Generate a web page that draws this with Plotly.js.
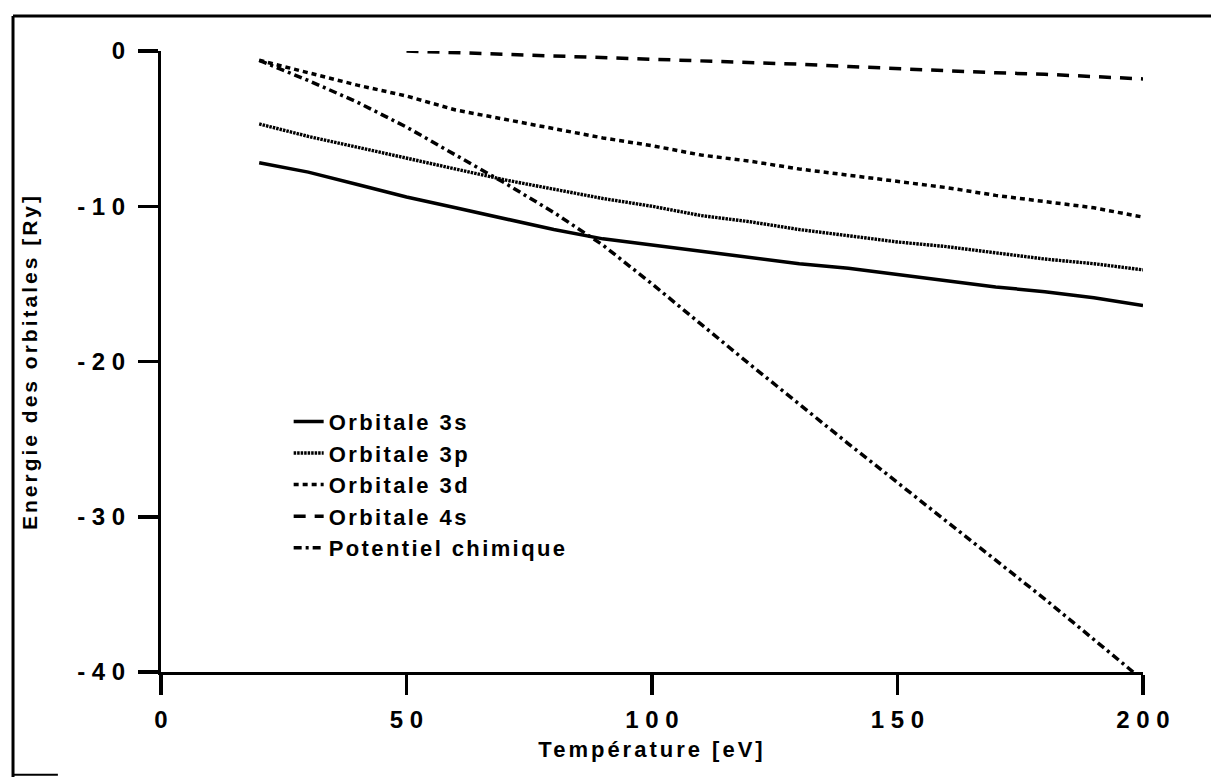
<!DOCTYPE html>
<html>
<head>
<meta charset="utf-8">
<script src="https://cdn.plot.ly/plotly-3.0.1.min.js"></script>
<style>
html,body{margin:0;padding:0;background:#fff;}
#chart{width:1211px;height:777px;}
text.xtitle, text.ytitle { letter-spacing: 3px; }
text.legendtext { letter-spacing: 2.4px; }
</style>
</head>
<body>
<div id="chart"></div>
<script>
const T = [20, 30, 40, 50, 60, 70, 80, 90, 100, 110, 120, 130, 140, 150, 160, 170, 180, 190, 200];
const orb3s = [-7.2, -7.8, -8.6, -9.4, -10.1, -10.8, -11.5, -12.1, -12.5, -12.9, -13.3, -13.7, -14.0, -14.4, -14.8, -15.2, -15.5, -15.9, -16.4];
const orb3p = [-4.7, -5.5, -6.2, -6.9, -7.6, -8.3, -8.9, -9.5, -10.0, -10.6, -11.0, -11.5, -11.9, -12.3, -12.6, -13.0, -13.4, -13.7, -14.1];
const orb3d = [-0.6, -1.4, -2.2, -2.9, -3.8, -4.4, -5.0, -5.6, -6.1, -6.7, -7.1, -7.6, -8.0, -8.4, -8.8, -9.3, -9.7, -10.1, -10.7];
const T4s = [50, 60, 70, 80, 90, 100, 110, 120, 130, 140, 150, 160, 170, 180, 190, 200];
const orb4s = [0.0, -0.1, -0.2, -0.3, -0.4, -0.5, -0.65, -0.75, -0.85, -1.0, -1.15, -1.25, -1.4, -1.5, -1.65, -1.8];
const Tmu = [20, 30, 40, 50, 60, 70, 80, 90, 100, 120, 140, 160, 180, 198];
const muChem = [-0.6, -1.9, -3.3, -4.9, -6.7, -8.5, -10.4, -12.5, -15.0, -20.2, -25.3, -30.3, -35.3, -40.0];
const names = ["Orbitale 3s", "Orbitale 3p", "Orbitale 3d", "Orbitale 4s", "Potentiel chimique"];
const xTickVals = [0, 50, 100, 150, 200];
const xTickText = ["0", "5 0", "1 0 0", "1 5 0", "2 0 0"];
const yTickVals = [0, -10, -20, -30, -40];
const yTickText = ["0", "- 1 0", "- 2 0", "- 3 0", "- 4 0"];

const F = "Liberation Sans, Arial, sans-serif";
const traces = [
  {x: T, y: orb3s, name: names[0], mode: "lines", line: {color: "#000", width: 3.5, dash: "solid"}},
  {x: T, y: orb3p, name: names[1], mode: "lines", line: {color: "#000", width: 3.4, dash: "2.5px,1px"}},
  {x: T, y: orb3d, name: names[2], mode: "lines", line: {color: "#000", width: 3.5, dash: "5px,4px"}},
  {x: T4s, y: orb4s, name: names[3], mode: "lines", line: {color: "#000", width: 3.5, dash: "12px,9px"}},
  {x: Tmu, y: muChem, name: names[4], mode: "lines", line: {color: "#000", width: 3.5, dash: "8px,4px,3px,4px"}}
];
const layout = {
  width: 1211, height: 777,
  margin: {l: 161, r: 68, t: 51, b: 105},
  paper_bgcolor: "#fff", plot_bgcolor: "#fff",
  showlegend: true,
  legend: {x: 0.13, y: 0.437, xanchor: "left", yanchor: "top", bgcolor: "rgba(0,0,0,0)",
           font: {family: F, size: 22, color: "#000", weight: "bold"}, tracegroupgap: 0},
  xaxis: {range: [0, 200], tickvals: xTickVals, ticktext: xTickText, showgrid: false, zeroline: false,
          showline: true, linecolor: "#000", linewidth: 3, ticks: "outside", ticklen: 20, tickwidth: 3.5, tickcolor: "#000",
          tickfont: {family: F, size: 24, color: "#000", weight: "bold"}, ticklabelstandoff: 4,
          title: {text: "Température [eV]", font: {family: F, size: 22, color: "#000", weight: "bold"}, standoff: 10}},
  yaxis: {range: [-40, 0], tickvals: yTickVals, ticktext: yTickText, showgrid: false, zeroline: false,
          showline: true, linecolor: "#000", linewidth: 3, ticks: "outside", ticklen: 20, tickwidth: 3.5, tickcolor: "#000",
          tickfont: {family: F, size: 24, color: "#000", weight: "bold"}, ticklabelstandoff: 8,
          title: {text: "Energie des orbitales [Ry]", font: {family: F, size: 21, color: "#000", weight: "bold"}, standoff: 34}},
  shapes: [
    {type: "line", xref: "paper", yref: "paper", x0: -0.1507, x1: -0.1507, y0: 1.0564, y1: -0.17, line: {color: "#000", width: 3}},
    {type: "line", xref: "paper", yref: "paper", x0: -0.1507, x1: 1.07, y0: 1.0564, y1: 1.0564, line: {color: "#000", width: 3}},
    {type: "line", xref: "paper", yref: "paper", x0: -0.1507, x1: -0.105, y0: -0.1655, y1: -0.1655, line: {color: "#000", width: 2}}
  ]
};
Plotly.newPlot("chart", traces, layout, {displayModeBar: false, staticPlot: true});
</script>
</body>
</html>
